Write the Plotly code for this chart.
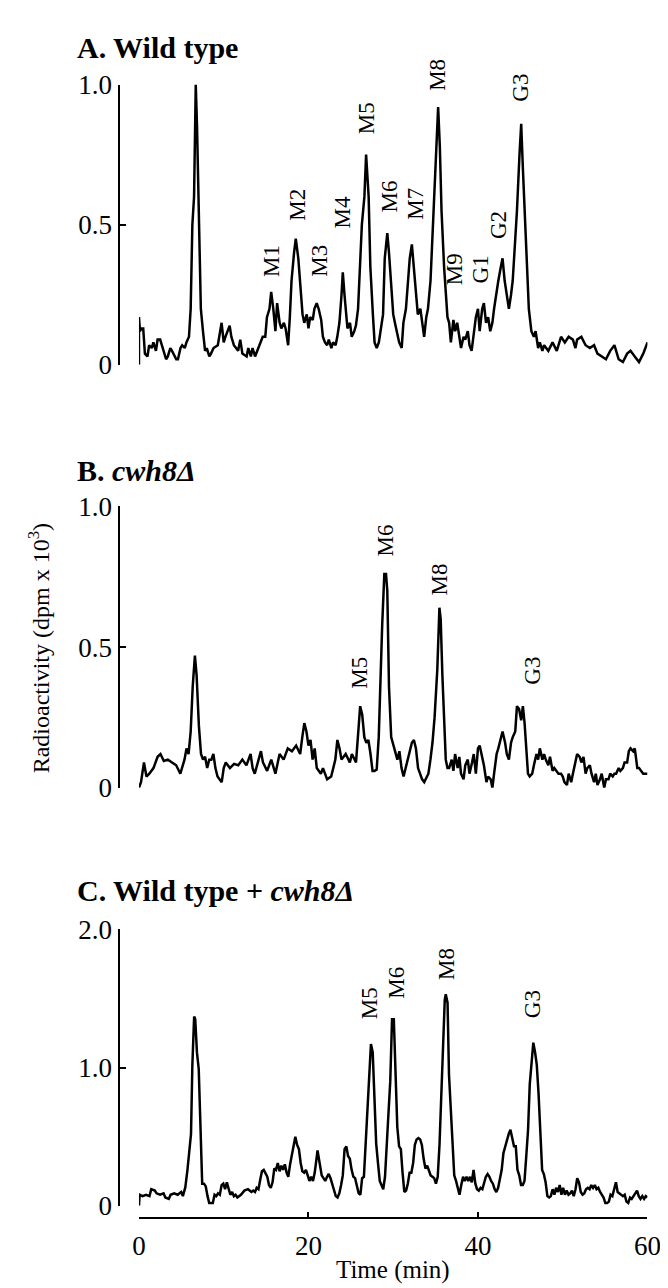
import plotly.graph_objects as go

# ---------------- data (time in min, radioactivity in dpm x 10^3) ----------------
tA = [0, 0, 0.12, 0.3, 0.5, 0.7, 1.0, 1.2, 1.5, 1.7, 2.0, 2.2, 2.5, 2.7, 2.9, 3.2, 3.4, 3.7, 3.9, 4.1, 4.4, 4.6, 4.9, 5.1, 5.4, 5.6, 5.9,
      6.1, 6.3, 6.5, 6.7, 6.85, 7.1, 7.3, 7.55, 7.8, 8.0, 8.3, 8.5, 8.8, 9.3, 9.75, 10.0, 10.2, 10.7, 10.9, 11.2, 11.7, 11.95,
      12.2, 12.7, 12.9, 13.2, 13.4, 13.7, 14.1, 14.6, 14.9, 15.1, 15.4, 15.6, 15.85, 16.1, 16.3, 16.6, 16.8, 17.1, 17.3, 17.6,
      17.8, 18.0, 18.3, 18.5, 18.8, 19.0, 19.3, 19.5, 19.8, 20.0, 20.2, 20.5, 20.7, 20.97, 21.2, 21.5, 21.7, 21.95, 22.2, 22.4,
      22.7, 22.9, 23.2, 23.4, 23.65, 23.9, 24.05, 24.25, 24.4, 24.6, 24.9, 25.1, 25.4, 25.6, 25.85, 26.1, 26.3, 26.6, 26.8,
      27.1, 27.3, 27.6, 27.8, 28.05, 28.3, 28.5, 28.8, 29.0, 29.3, 29.5, 29.8, 30.0, 30.2, 30.5, 30.7, 31.0, 31.2, 31.5, 31.7,
      31.95, 32.2, 32.4, 32.7, 32.9, 33.2, 33.4, 33.65, 33.9, 34.1, 34.4, 34.6, 34.85, 35.1, 35.3, 35.5, 35.7, 36.0, 36.2,
      36.4, 36.6, 36.8, 37.1, 37.3, 37.55, 37.8, 38.0, 38.3, 38.5, 38.8, 39.0, 39.25, 39.5, 39.75, 40.0, 40.2, 40.5, 40.7,
      40.95, 41.2, 41.45, 41.7, 41.9, 42.2, 42.4, 42.7, 42.9, 43.15, 43.4, 43.65, 43.9, 44.1, 44.4, 44.6, 44.9, 45.1, 45.3,
      45.5, 45.8, 46.0, 46.3, 46.6, 46.8, 47.1, 47.3, 47.6, 47.8, 48.3, 48.8, 49.3, 49.8, 50.25, 50.7, 51.2, 51.5, 51.7, 52.2,
      52.7, 53.2, 53.7, 54.1, 54.6, 55.1, 55.6, 56.1, 56.6, 57.1, 57.6, 58.0, 58.5, 59.0, 59.5, 60.0]
vA = [0.0, 0.17, 0.12, 0.13, 0.13, 0.04, 0.03, 0.07, 0.06, 0.08, 0.05, 0.09, 0.09, 0.07, 0.05, 0.02, 0.03, 0.06, 0.05, 0.04, 0.02, 0.02, 0.06, 0.07, 0.06, 0.08, 0.1,
      0.2, 0.5, 0.6, 1.0, 0.85, 0.45, 0.2, 0.12, 0.05, 0.06, 0.03, 0.04, 0.06, 0.07, 0.15, 0.08, 0.1, 0.14, 0.1, 0.07, 0.05, 0.09,
      0.04, 0.03, 0.06, 0.03, 0.06, 0.03, 0.06, 0.1, 0.1, 0.17, 0.2, 0.26, 0.2, 0.12, 0.22, 0.15, 0.13, 0.15, 0.13, 0.07,
      0.17, 0.3, 0.4, 0.45, 0.38, 0.3, 0.18, 0.15, 0.18, 0.13, 0.17, 0.16, 0.2, 0.22, 0.2, 0.16, 0.1, 0.08, 0.07, 0.09,
      0.06, 0.08, 0.07, 0.1, 0.15, 0.25, 0.33, 0.25, 0.2, 0.13, 0.15, 0.1, 0.12, 0.14, 0.2, 0.35, 0.5, 0.6, 0.75,
      0.6, 0.35, 0.18, 0.08, 0.06, 0.08, 0.12, 0.18, 0.38, 0.47, 0.4, 0.25, 0.18, 0.15, 0.1, 0.08, 0.06, 0.15, 0.2, 0.3,
      0.38, 0.43, 0.35, 0.25, 0.18, 0.2, 0.15, 0.1, 0.17, 0.2, 0.3, 0.45, 0.6, 0.8, 0.92, 0.78, 0.55, 0.35, 0.25,
      0.17, 0.15, 0.08, 0.16, 0.12, 0.15, 0.1, 0.06, 0.1, 0.09, 0.12, 0.07, 0.05, 0.12, 0.17, 0.2, 0.12, 0.2, 0.22,
      0.15, 0.17, 0.12, 0.15, 0.2, 0.27, 0.3, 0.35, 0.38, 0.3, 0.25, 0.2, 0.25, 0.3, 0.45, 0.55, 0.75, 0.86, 0.7,
      0.55, 0.35, 0.2, 0.12, 0.1, 0.12, 0.06, 0.08, 0.05, 0.07, 0.05, 0.08, 0.05, 0.1, 0.08, 0.1, 0.09, 0.06, 0.09, 0.1,
      0.07, 0.06, 0.07, 0.04, 0.03, 0.02, 0.05, 0.07, 0.02, 0.01, 0.04, 0.05, 0.03, 0.01, 0.04, 0.08]

tB = [0, 0.24, 0.59, 0.88, 1.22, 1.71, 2.2, 2.54, 2.93, 3.41, 3.9, 4.39, 4.88, 5.37, 5.61, 5.85, 6.1, 6.34, 6.6, 6.8, 7.07,
      7.32, 7.56, 7.8, 8.05, 8.29, 8.54, 8.78, 9.02, 9.27, 9.76, 10.0, 10.24, 10.73, 11.22, 11.71, 12.2, 12.68, 13.17, 13.41,
      13.66, 14.15, 14.39, 14.63, 15.12, 15.61, 16.1, 16.59, 17.07, 17.56, 18.05, 18.54, 19.02, 19.27, 19.51, 19.76, 20.0,
      20.24, 20.49, 20.73, 20.98, 21.46, 21.71, 21.95, 22.2, 22.68, 23.17, 23.41, 23.66, 23.9, 24.39, 24.88, 25.12, 25.61,
      25.85, 26.1, 26.34, 26.59, 26.83, 27.07, 27.32, 27.56, 27.8, 28.05, 28.29, 28.5, 28.7, 28.95, 29.15, 29.3, 29.5, 29.76,
      30.0, 30.24, 30.49, 30.73, 30.98, 31.22, 31.46, 31.95, 32.2, 32.44, 32.68, 32.93, 33.41, 33.66, 34.15, 34.39, 34.63,
      34.88, 35.2, 35.45, 35.6, 35.8, 36.0, 36.2, 36.4, 36.6, 36.9, 37.1, 37.3, 37.6, 37.8, 38.0, 38.3, 38.5, 38.8, 39.0,
      39.3, 39.5, 39.75, 40.0, 40.2, 40.5, 40.7, 41.0, 41.2, 41.5, 41.7, 41.9, 42.2, 42.4, 42.7, 42.9, 43.2, 43.4, 43.65,
      43.9, 44.1, 44.4, 44.6, 44.85, 45.1, 45.3, 45.5, 45.7, 45.9, 46.1, 46.4, 46.6, 46.9, 47.1, 47.3, 47.6, 47.8, 48.0,
      48.3, 48.5, 48.8, 49.0, 49.3, 49.5, 49.8, 50.0, 50.2, 50.5, 50.7, 51.0, 51.2, 51.5, 51.7, 52.0, 52.2, 52.45, 52.7,
      52.9, 53.2, 53.4, 53.7, 53.9, 54.1, 54.4, 54.6, 54.9, 55.1, 55.4, 55.6, 55.9, 56.1, 56.3, 56.6, 56.8, 57.1, 57.3,
      57.6, 57.8, 58.0, 58.3, 58.5, 58.8, 59.0, 59.5, 60.0]
vB = [0.0, 0.02, 0.09, 0.04, 0.05, 0.07, 0.11, 0.12, 0.095, 0.1, 0.09, 0.08, 0.05, 0.1, 0.14, 0.12, 0.2, 0.36, 0.47, 0.4, 0.22,
      0.12, 0.1, 0.11, 0.07, 0.1, 0.1, 0.12, 0.07, 0.04, 0.02, 0.07, 0.09, 0.07, 0.085, 0.08, 0.1, 0.08, 0.12, 0.07,
      0.05, 0.1, 0.13, 0.09, 0.06, 0.1, 0.05, 0.12, 0.1, 0.14, 0.13, 0.15, 0.12, 0.18, 0.23, 0.2, 0.15,
      0.17, 0.1, 0.14, 0.07, 0.05, 0.07, 0.05, 0.03, 0.04, 0.1, 0.17, 0.14, 0.1, 0.12, 0.09, 0.12, 0.09,
      0.19, 0.29, 0.26, 0.18, 0.16, 0.17, 0.12, 0.06, 0.06, 0.065, 0.18, 0.4, 0.58, 0.76, 0.76, 0.7, 0.36, 0.18,
      0.15, 0.12, 0.1, 0.13, 0.07, 0.04, 0.07, 0.13, 0.16, 0.17, 0.14, 0.07, 0.03, 0.02, 0.05, 0.1, 0.16,
      0.25, 0.42, 0.64, 0.6, 0.4, 0.25, 0.1, 0.07, 0.07, 0.1, 0.06, 0.12, 0.07, 0.11, 0.05, 0.03, 0.08, 0.1, 0.05,
      0.09, 0.12, 0.05, 0.14, 0.15, 0.11, 0.08, 0.02, 0.04, 0.03, 0.0, 0.05, 0.12, 0.14, 0.18, 0.2, 0.16, 0.12, 0.1,
      0.16, 0.18, 0.2, 0.29, 0.28, 0.24, 0.29, 0.23, 0.14, 0.05, 0.04, 0.05, 0.08, 0.12, 0.1, 0.14, 0.1, 0.12, 0.1,
      0.08, 0.11, 0.06, 0.07, 0.06, 0.05, 0.05, 0.04, 0.02, 0.01, 0.05, 0.02, 0.05, 0.1, 0.12, 0.11, 0.09, 0.11, 0.05,
      0.07, 0.08, 0.05, 0.02, 0.05, 0.01, 0.03, 0.05, 0.0, 0.03, 0.03, 0.05, 0.04, 0.05, 0.05, 0.07, 0.06, 0.07, 0.09,
      0.09, 0.13, 0.14, 0.13, 0.14, 0.07, 0.07, 0.05, 0.05]

tC = [0, 0.08, 0.41, 0.83, 1.24, 1.45, 1.87, 2.07, 2.49, 2.9, 3.11, 3.52, 3.73, 4.15, 4.56, 4.98, 5.18, 5.47, 5.72, 5.89,
      6.14, 6.3, 6.51, 6.64, 6.84, 7.05, 7.26, 7.46, 7.67, 7.88, 8.09, 8.29, 8.71, 8.92, 9.12, 9.33, 9.54, 9.75, 9.95,
      10.16, 10.37, 10.57, 10.78, 10.99, 11.2, 11.4, 11.61, 12.03, 12.44, 12.86, 13.27, 13.48, 13.69, 13.89, 14.1, 14.31,
      14.51, 14.72, 14.93, 15.14, 15.34, 15.55, 15.76, 15.97, 16.17, 16.38, 16.59, 16.8, 17.0, 17.21, 17.42, 17.62, 17.83,
      18.04, 18.25, 18.45, 18.66, 18.87, 19.08, 19.28, 19.49, 19.7, 19.91, 20.11, 20.32, 20.53, 20.74, 20.94, 21.07, 21.23,
      21.44, 21.56, 21.77, 21.98, 22.19, 22.39, 22.6, 22.81, 23.02, 23.22, 23.43, 23.64, 23.85, 24.05, 24.26, 24.47, 24.67,
      24.88, 25.09, 25.3, 25.5, 25.71, 25.92, 26.13, 26.33, 26.54, 26.75, 26.96, 27.16, 27.37, 27.58, 27.78, 27.99, 28.2,
      28.41, 28.61, 28.82, 29.03, 29.24, 29.44, 29.65, 29.86, 30.07, 30.27, 30.48, 30.69, 30.9, 31.1, 31.31, 31.52, 31.72,
      31.93, 32.14, 32.35, 32.55, 32.76, 32.97, 33.18, 33.38, 33.59, 33.8, 34.01, 34.21, 34.42, 34.63, 34.83, 35.04, 35.25,
      35.46, 35.66, 35.87, 36.08, 36.2, 36.41, 36.58, 36.78, 36.99, 37.2, 37.41, 37.61, 37.82, 38.03, 38.24, 38.44, 38.65,
      38.86, 39.06, 39.27, 39.48, 39.69, 39.89, 40.1, 40.31, 40.52, 40.72, 40.93, 41.14, 41.35, 41.55, 41.76, 41.97, 42.17,
      42.38, 42.59, 42.8, 43.0, 43.21, 43.42, 43.63, 43.83, 44.04, 44.25, 44.46, 44.66, 44.87, 45.08, 45.29, 45.49, 45.7,
      45.91, 46.11, 46.32, 46.53, 46.74, 46.94, 47.15, 47.36, 47.57, 47.77, 47.98, 48.19, 48.4, 48.6, 48.81, 49.02, 49.22,
      49.43, 49.64, 49.85, 50.05, 50.26, 50.47, 50.68, 50.88, 51.09, 51.3, 51.51, 51.71, 51.92, 52.13, 52.34, 52.54, 52.75,
      52.96, 53.17, 53.37, 53.58, 53.79, 53.99, 54.2, 54.41, 54.62, 54.82, 55.03, 55.24, 55.45, 55.65, 55.86, 56.07, 56.28,
      56.48, 56.69, 56.9, 57.11, 57.31, 57.52, 57.73, 57.94, 58.14, 58.35, 58.56, 58.77, 58.97, 59.18, 59.39, 59.6, 59.8, 60.0]
vC = [0.0, 0.08, 0.07, 0.08, 0.07, 0.12, 0.11, 0.09, 0.08, 0.09, 0.06, 0.05, 0.08, 0.09, 0.08, 0.1, 0.07, 0.135, 0.26, 0.38,
      0.52, 1.02, 1.37, 1.35, 1.11, 0.99, 0.5, 0.16, 0.16, 0.14, 0.07, 0.02, 0.02, 0.08, 0.07, 0.09, 0.08, 0.15, 0.16,
      0.12, 0.17, 0.12, 0.08, 0.1, 0.07, 0.08, 0.06, 0.08, 0.11, 0.12, 0.1, 0.11, 0.1, 0.13, 0.12, 0.19,
      0.25, 0.26, 0.23, 0.21, 0.15, 0.13, 0.17, 0.27, 0.26, 0.31, 0.25, 0.29, 0.26, 0.3, 0.24, 0.21, 0.3,
      0.36, 0.43, 0.5, 0.44, 0.41, 0.31, 0.25, 0.24, 0.26, 0.22, 0.18, 0.21, 0.18, 0.24, 0.33, 0.4, 0.34,
      0.24, 0.22, 0.2, 0.18, 0.21, 0.23, 0.2, 0.15, 0.1, 0.07, 0.06, 0.09, 0.15, 0.22, 0.41, 0.43, 0.36,
      0.34, 0.26, 0.21, 0.2, 0.15, 0.09, 0.08, 0.2, 0.21, 0.45, 0.6, 0.85, 1.17, 1.11, 0.78, 0.45, 0.31,
      0.18, 0.15, 0.12, 0.21, 0.41, 0.67, 0.9, 1.35, 1.35, 0.9, 0.57, 0.43, 0.41, 0.24, 0.1, 0.11, 0.16,
      0.24, 0.24, 0.31, 0.44, 0.48, 0.49, 0.48, 0.44, 0.34, 0.27, 0.29, 0.25, 0.22, 0.21, 0.2, 0.16, 0.21,
      0.44, 0.78, 1.25, 1.49, 1.53, 1.47, 0.95, 0.69, 0.41, 0.22, 0.18, 0.12, 0.08, 0.15, 0.21, 0.18, 0.21,
      0.18, 0.21, 0.17, 0.26, 0.16, 0.12, 0.11, 0.13, 0.12, 0.16, 0.21, 0.23, 0.21, 0.18, 0.16, 0.12, 0.1,
      0.13, 0.2, 0.26, 0.38, 0.43, 0.49, 0.52, 0.55, 0.5, 0.43, 0.43, 0.26, 0.22, 0.15, 0.15, 0.18, 0.36,
      0.55, 0.88, 1.02, 1.18, 1.11, 1.02, 0.81, 0.55, 0.26, 0.23, 0.17, 0.07, 0.06, 0.07, 0.12, 0.08, 0.13,
      0.1, 0.15, 0.08, 0.13, 0.08, 0.11, 0.08, 0.09, 0.11, 0.07, 0.12, 0.2, 0.17, 0.1, 0.08, 0.09, 0.12,
      0.13, 0.12, 0.15, 0.13, 0.15, 0.12, 0.13, 0.1, 0.08, 0.06, 0.02, 0.02, 0.03, 0.08, 0.07, 0.12, 0.17,
      0.1, 0.09, 0.08, 0.07, 0.08, 0.03, 0.02, 0.06, 0.05, 0.07, 0.09, 0.11, 0.07, 0.05, 0.07, 0.05, 0.07, 0.06]

# peak labels
labA = ["M1", "M2", "M3", "M4", "M5", "M6", "M7", "M8", "M9", "G1", "G2", "G3"]
labA_t = [15.55, 18.6, 21.2, 24.0, 26.8, 29.6, 32.7, 35.3, 37.25, 40.35, 42.4, 45.0]
labA_y = [0.37, 0.57, 0.37, 0.545, 0.88, 0.6, 0.575, 1.035, 0.34, 0.34, 0.5, 0.99]
labB = ["M5", "M6", "M8", "G3"]
labB_t = [26.0, 29.1, 35.5, 46.4]
labB_y = [0.41, 0.878, 0.74, 0.417]
labC = ["M5", "M6", "M8", "G3"]
labC_t = [27.2, 30.45, 36.35, 46.4]
labC_y = [1.47, 1.615, 1.75, 1.46]

titles = ["<b>A. Wild type</b>", "<b>B. <i>cwh8Δ</i></b>", "<b>C. Wild type + <i>cwh8Δ</i></b>"]
yticks = [[0, 0.5, 1.0], [0, 0.5, 1.0], [0, 1.0, 2.0]]
yticktext = [["0", "0.5", "1.0"], ["0", "0.5", "1.0"], ["0", "1.0", "2.0"]]
yranges = [[0, 1.0], [0, 1.0], [0, 2.0]]
xticks = [0, 20, 40, 60]

# ---------------- layout geometry ----------------
W, H = 668, 1288
FONT = "Liberation Serif, Times New Roman, serif"
x0_px, x60_px, yaxis_px = 128, 653, 107
panel_px = [(350, 63), (783, 495), (1211, 928)]   # (bottom, top) pixel rows
title_px = [25, 458, 888]

def py(p):
    return 1 - p / H

xdom = [x0_px / W, x60_px / W]
ydoms = [[py(b), py(t)] for b, t in panel_px]

fig = go.Figure()
series = [(tA, vA), (tB, vB), (tC, vC)]
for i, (t, v) in enumerate(series):
    sfx = "" if i == 0 else str(i + 1)
    fig.add_trace(go.Scatter(x=t, y=v, mode="lines", xaxis="x" + sfx, yaxis="y" + sfx,
                             line=dict(color="black", width=2.5), cliponaxis=False,
                             showlegend=False, hoverinfo="skip"))

layout = dict(width=W, height=H, margin=dict(l=0, r=0, t=0, b=0),
              paper_bgcolor="white", plot_bgcolor="white",
              font=dict(family=FONT, size=24, color="black"), showlegend=False)

for i in range(3):
    sfx = "" if i == 0 else str(i + 1)
    xa = dict(domain=xdom, range=[0, 60], showgrid=False, zeroline=False)
    if i < 2:
        xa.update(visible=False, anchor="y" + sfx)
    else:
        xa.update(anchor="free", position=py(1224), showline=True, linewidth=2.4, linecolor="black",
                  ticks="inside", ticklen=5, tickwidth=2, tickcolor="black",
                  tickvals=xticks, ticktext=[str(v) for v in xticks],
                  tickfont=dict(family=FONT, size=27), ticklabelstandoff=3)
    ya = dict(domain=ydoms[i], range=yranges[i], anchor="free", position=yaxis_px / W,
              showline=True, linewidth=2.4, linecolor="black", showgrid=False, zeroline=False,
              ticks="inside", ticklen=6, tickwidth=2.2, tickcolor="black",
              tickvals=yticks[i], ticktext=yticktext[i], tickfont=dict(family=FONT, size=27),
              ticklabelstandoff=0)
    layout["xaxis" + sfx] = xa
    layout["yaxis" + sfx] = ya

fig.update_layout(**layout)

ann = []
for i in range(3):
    ann.append(dict(text=titles[i], x=62 / W, y=py(title_px[i]), xref="paper", yref="paper",
                    xanchor="left", yanchor="middle", showarrow=False,
                    font=dict(family=FONT, size=30, color="black")))

for i, (labs, lt, ly) in enumerate([(labA, labA_t, labA_y), (labB, labB_t, labB_y), (labC, labC_t, labC_y)]):
    sfx = "" if i == 0 else str(i + 1)
    d0, d1 = ydoms[i]
    rmax = yranges[i][1]
    for s, t, y in zip(labs, lt, ly):
        ann.append(dict(text=s, x=t, y=d0 + (d1 - d0) * y / rmax, xref="x" + sfx, yref="paper",
                        textangle=-90, xanchor="center", yanchor="middle", showarrow=False,
                        font=dict(family=FONT, size=23, color="black")))

ann.append(dict(text="Radioactivity (dpm x 10<sup>3</sup>)", x=25 / W, y=py(640), xref="paper", yref="paper",
                textangle=-90, xanchor="center", yanchor="middle", showarrow=False,
                font=dict(family=FONT, size=24, color="black")))
ann.append(dict(text="Time (min)", x=30, y=py(1277), xref="x3", yref="paper",
                xanchor="center", yanchor="middle", showarrow=False,
                font=dict(family=FONT, size=25, color="black")))
fig.update_layout(annotations=ann)

fig.write_html("out.html")
